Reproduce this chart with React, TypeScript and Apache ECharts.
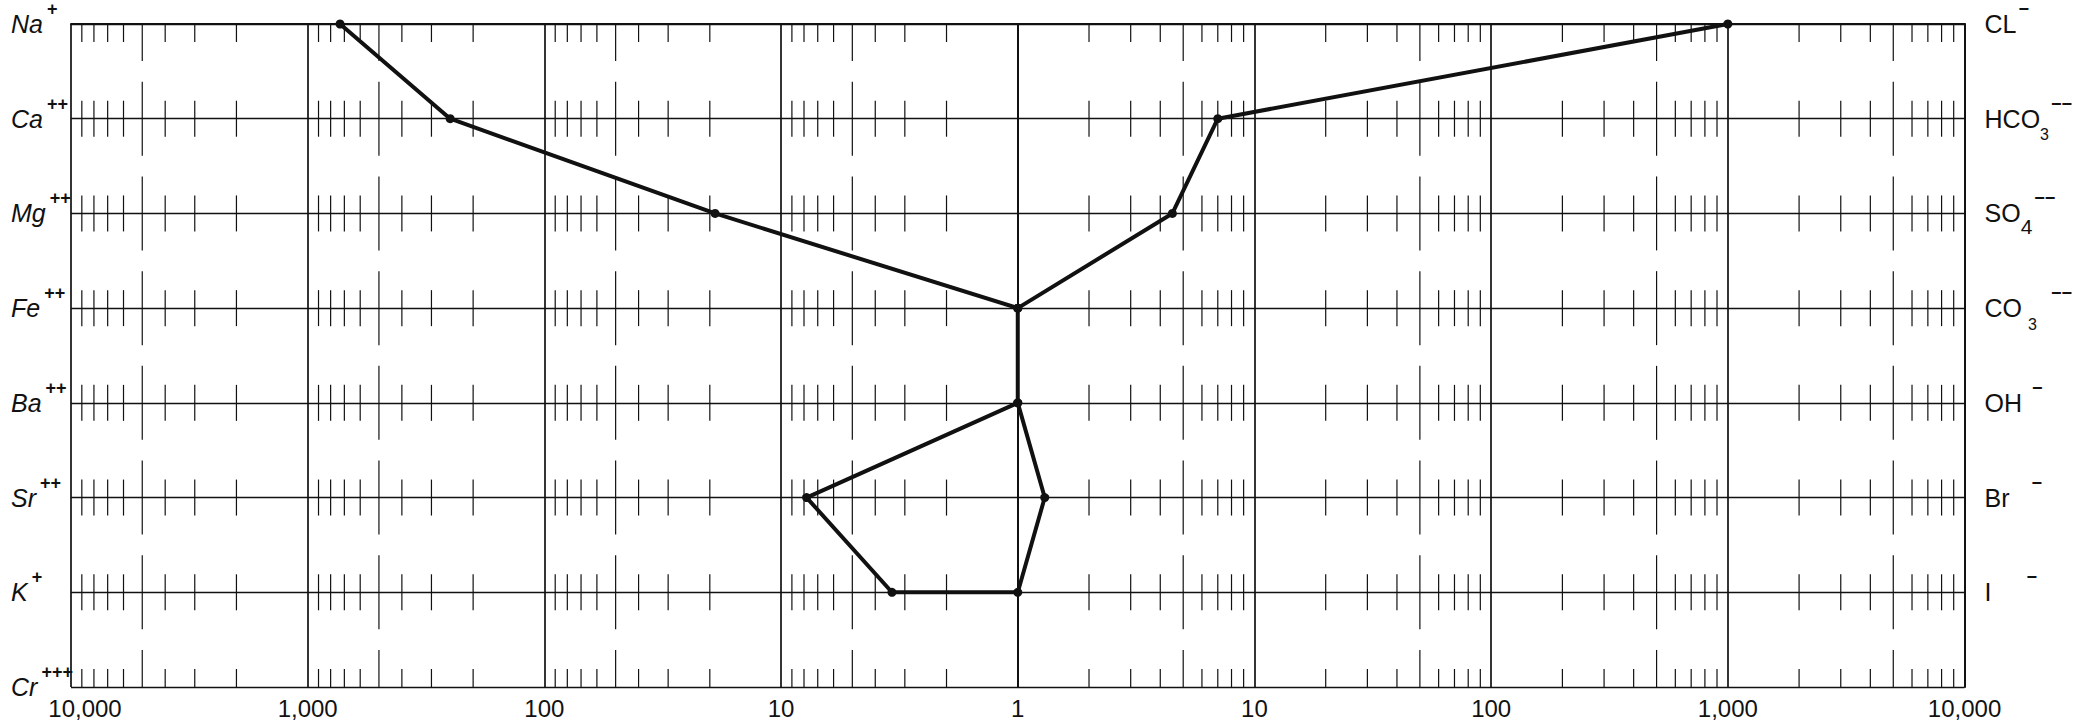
import React, { useEffect, useRef } from 'react';
import * as echarts from 'echarts';

// Rows, top to bottom: cation on the left, anion on the right (meq/l, log scale)
const CATIONS = ['Na', 'Ca', 'Mg', 'Fe', 'Ba', 'Sr', 'K', 'Cr'];
const CATION_CHARGES = ['+', '++', '++', '++', '++', '++', '+', '+++'];
const CATION_VALUES = [730, 250, 19, 1, 1, 7.8, 3.4];
const ANION_LABELS = [
  '{m|CL}{supA|−}',
  '{m|HCO}{sub|3}{supA|−−}',
  '{m|SO}{sub4|4}{supA|−−}',
  '{m|CO}{subS|3}{supE|−−}',
  '{m|OH}{supB|−}',
  '{m|Br}{supC|−}',
  '{m|I}{supD|−}',
];
const ANION_VALUES = [1000, 7, 4.5, 1, 1, 1.3, 1];

// Bottom axis: decades mirrored about 1
const X_TICK_LABELS = ['10,000', '1,000', '100', '10', '1', '10', '100', '1,000', '10,000'];
const DECADES = [0, 1, 2, 3];
const MINOR_MULTIPLIERS = [2, 3, 4, 5, 6, 7, 8, 9];

const FONT = '"Liberation Sans", Arial, sans-serif';
const INK = '#111';

// short log-cycle ticks on every row line
const minorTicks: number[][] = [];
for (let row = 0; row < CATIONS.length; row++) {
  for (const side of [-1, 1]) {
    for (const d of DECADES) {
      for (const m of MINOR_MULTIPLIERS) {
        minorTicks.push([side * (d + Math.log10(m)), row, m === 5 ? 1 : 0]);
      }
    }
  }
}

// Closed profile: down the cation side, back up the anion side
const profile = [
  ...CATION_VALUES.map((v, i) => [-Math.log10(v), i]),
  ...ANION_VALUES.map((v, i) => [Math.log10(v), i]).reverse(),
];

const mainText = { fontSize: 25, lineHeight: 48, fontFamily: FONT, color: INK };
const supBase = {
  fontSize: 18,
  lineHeight: 14,
  verticalAlign: 'top',
  fontWeight: 'bold',
  fontFamily: FONT,
  color: INK,
};

const leftRich = {
  m: { ...mainText, fontStyle: 'italic' },
  sup: { ...supBase, padding: [0, 0, 0, 4] },
};
const rightRich = {
  m: mainText,
  supA: { ...supBase, padding: [0, 0, 0, 2] },
  supB: { ...supBase, padding: [0, 0, 0, 10] },
  supC: { ...supBase, padding: [0, 0, 0, 22] },
  supD: { ...supBase, padding: [0, 0, 0, 35] },
  supE: { ...supBase, padding: [0, 0, 0, 14] },
  sub: { fontSize: 16, lineHeight: 32, verticalAlign: 'bottom', fontFamily: FONT, color: INK },
  subS: {
    fontSize: 16,
    lineHeight: 32,
    verticalAlign: 'bottom',
    fontFamily: FONT,
    color: INK,
    padding: [0, 0, 0, 6],
  },
  sub4: { fontSize: 21, lineHeight: 42, verticalAlign: 'bottom', fontFamily: FONT, color: INK },
};

const option = {
  animation: false,
  backgroundColor: '#fff',
  grid: { left: 71, right: 104, top: 21, bottom: 41, containLabel: false },
  xAxis: {
    type: 'value',
    min: -4,
    max: 4,
    interval: 1,
    axisLine: { show: true, lineStyle: { color: INK, width: 2 } },
    axisTick: { show: false },
    splitLine: { show: true, lineStyle: { color: INK, width: 1.7, type: 'solid' } },
    axisLabel: {
      margin: 9,
      fontSize: 24,
      fontFamily: FONT,
      color: INK,
      showMinLabel: true,
      showMaxLabel: true,
      formatter: (v: number) => {
        const t = X_TICK_LABELS[Math.round(v) + 4] ?? '';
        return Math.round(v) === -4 ? `{first|${t}}` : t;
      },
      rich: { first: { fontSize: 24, fontFamily: FONT, color: INK, padding: [0, 0, 0, 28] } },
    },
  },
  yAxis: [
    {
      type: 'value',
      min: 0,
      max: CATIONS.length - 1,
      interval: 1,
      inverse: true,
      position: 'left',
      axisLine: { show: true, lineStyle: { color: INK, width: 2 } },
      axisTick: { show: false },
      splitLine: { show: true, lineStyle: { color: INK, width: 1.4 } },
      axisLabel: {
        align: 'left',
        margin: 60,
        formatter: (v: number) => {
          const i = Math.round(v);
          return CATIONS[i] ? `{m|${CATIONS[i]}}{sup|${CATION_CHARGES[i]}}` : '';
        },
        rich: leftRich,
      },
    },
    {
      type: 'value',
      min: 0,
      max: CATIONS.length - 1,
      interval: 1,
      inverse: true,
      position: 'right',
      axisLine: { show: true, lineStyle: { color: INK, width: 2 } },
      axisTick: { show: false },
      splitLine: { show: false },
      axisLabel: {
        align: 'left',
        margin: 20,
        formatter: (v: number) => ANION_LABELS[Math.round(v)] ?? '',
        rich: rightRich,
      },
    },
  ],
  series: [
    {
      type: 'custom',
      silent: true,
      z: 1,
      data: minorTicks,
      renderItem: (params: any, api: any) => {
        const row = api.value(1);
        const p = api.coord([api.value(0), row]);
        const half = api.value(2) ? 37 : 18;
        const up = row === 0 ? 0 : half;
        const down = row === CATIONS.length - 1 ? 0 : half;
        return {
          type: 'line',
          shape: { x1: p[0], y1: p[1] - up, x2: p[0], y2: p[1] + down },
          style: { stroke: INK, lineWidth: 1.2 },
        };
      },
    },
    {
      type: 'line',
      z: 5,
      data: profile,
      symbol: 'circle',
      symbolSize: 9,
      itemStyle: { color: INK },
      lineStyle: { color: INK, width: 4, join: 'round' },
      silent: true,
    },
  ],
};

export default function App() {
  const ref = useRef<HTMLDivElement>(null);
  useEffect(() => {
    const chart = echarts.init(ref.current!, null, { renderer: 'svg' });
    chart.setOption(option as any);
    return () => chart.dispose();
  }, []);
  return (
    <div
      ref={ref}
      style={{ position: 'fixed', left: 0, top: 0, width: 2075, height: 728, background: '#fff' }}
    />
  );
}
